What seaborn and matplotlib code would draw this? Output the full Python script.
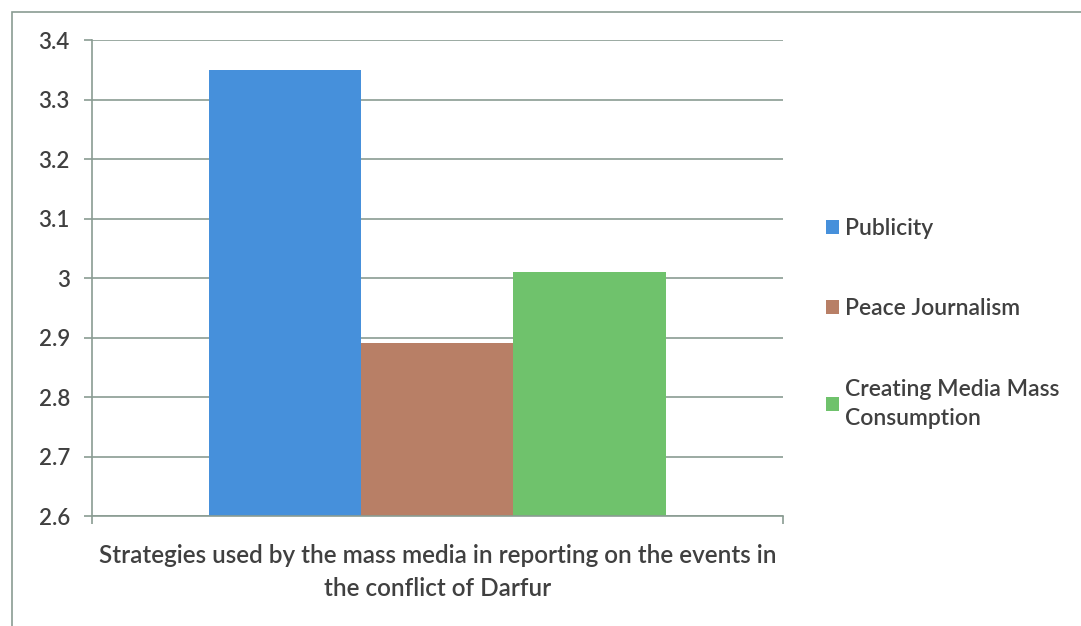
import matplotlib
matplotlib.use("Agg")
import matplotlib.pyplot as plt
import seaborn as sns
import pandas as pd
from matplotlib.patches import Rectangle

# data
strategies = ["Publicity", "Peace Journalism", "Creating Media Mass\nConsumption"]
means = [3.35, 2.89, 3.01]
group = ["Strategies used by the mass media in reporting on the events in\nthe conflict of Darfur"] * 3
colors = ["#4690db", "#b87f66", "#6fc26c"]
y_ticks = [2.6, 2.7, 2.8, 2.9, 3.0, 3.1, 3.2, 3.3, 3.4]
y_labels = ["2.6", "2.7", "2.8", "2.9", "3", "3.1", "3.2", "3.3", "3.4"]

grid_col = "#8a9c92"
text_col = "#404040"


def main():
    sns.set_theme(style="white")
    plt.rcParams["font.family"] = ["Lato", "DejaVu Sans"]

    df = pd.DataFrame({"group": group, "strategy": strategies, "mean": means})

    fig = plt.figure(figsize=(10.81, 6.26), dpi=100)
    ax = fig.add_axes([0.0851, 0.1757, 0.6392, 0.7603])

    sns.barplot(data=df, x="group", y="mean", hue="strategy",
                palette=colors, width=0.8, saturation=1, ax=ax,
                linewidth=0, legend=True)

    ax.set_ylim(2.6, 3.4)
    ax.set_xlim(-0.606, 0.606)
    ax.set_yticks(y_ticks)
    ax.set_yticklabels(y_labels)
    ax.yaxis.grid(True, color=grid_col, linewidth=1.2)
    ax.set_axisbelow(True)
    for s in ["top", "right"]:
        ax.spines[s].set_visible(False)
    ax.spines["left"].set_color(grid_col)
    ax.spines["bottom"].set_color(grid_col)
    ax.spines["left"].set_linewidth(1.2)
    ax.spines["bottom"].set_linewidth(1.2)
    ax.tick_params(axis="y", length=6, color=grid_col, width=1.2,
                   left=True, labelsize=16, labelcolor=text_col, pad=10)
    for lab in ax.get_yticklabels():
        lab.set_fontweight("semibold")

    # category boundary ticks on x, label as axis text
    ax.set_xticks([-0.606, 0.606])
    ax.set_xticklabels(["", ""])
    ax.tick_params(axis="x", length=6, color=grid_col, width=1.2, bottom=True)
    ax.set_xlabel(group[0], fontsize=17.5, color=text_col, fontweight="semibold",
                  labelpad=11, linespacing=1.5)
    ax.set_ylabel("")

    handles, labels = ax.get_legend_handles_labels()
    ax.legend_.remove()
    leg = fig.legend(handles, labels, loc="upper left",
                     bbox_to_anchor=(0.745, 0.685), frameon=False,
                     prop={"size": 16.5, "weight": "semibold"},
                     labelcolor=text_col, handlelength=0.55, handleheight=0.55,
                     handletextpad=0.3, labelspacing=2.6)
    for t in leg.get_texts():
        t.set_linespacing(1.45)

    # outer frame of the chart area
    fig.patches.append(Rectangle((12 / 1081, -0.05), 1.1, 0.05 + (626 - 12) / 626,
                                 transform=fig.transFigure, fill=False,
                                 edgecolor=grid_col, linewidth=1.2))

    fig.savefig("out.png", dpi=100)


if __name__ == "__main__":
    main()
